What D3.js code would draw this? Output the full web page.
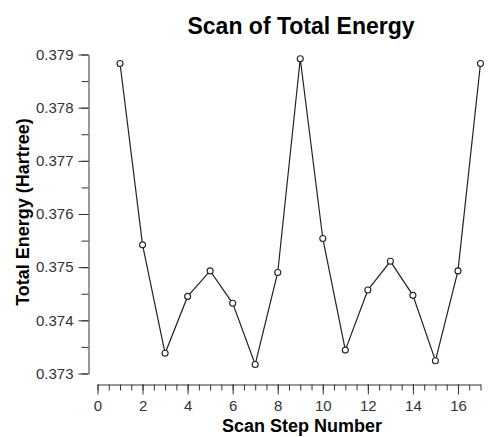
<!DOCTYPE html>
<html>
<head>
<meta charset="utf-8">
<script src="https://cdn.jsdelivr.net/npm/d3@7"></script>
<style>
  body { margin: 0; background: #fff; }
  svg { display: block; font-family: "Liberation Sans", Arial, sans-serif; }
  .tick text { fill: #333; font-size: 15px; }
  .axis path, .axis line { stroke: #333; }
</style>
</head>
<body>
<div id="chart"></div>
<script>
// data
var steps = [1, 2, 3, 4, 5, 6, 7, 8, 9, 10, 11, 12, 13, 14, 15, 16, 17];
var energies = [0.37883, 0.37542, 0.37338, 0.37445, 0.37493, 0.37432, 0.37317,
  0.37490, 0.37892, 0.37554, 0.37344, 0.37457, 0.37511, 0.37447, 0.37324,
  0.37493, 0.37883];
var xTicks = [0, 2, 4, 6, 8, 10, 12, 14, 16];
var yTicks = [0.373, 0.374, 0.375, 0.376, 0.377, 0.378, 0.379];

var svgWidth = 489;
var svgHeight = 437;

var svg = d3.select("#chart")
  .append("svg")
  .attr("width", svgWidth)
  .attr("height", svgHeight);

// scales
var x = d3.scaleLinear().domain([0, 17]).range([97.5, 480.5]);
var y = d3.scaleLinear().domain([0.373, 0.379]).range([373.5, 54.5]);

var xMinor = d3.range(0, 17.01, 0.5);
var yMinor = d3.range(0, 13).map(i => 0.373 + i * 0.0005);

// x axis (minor + major)
var xAxisY = 384.5;
svg.append("g")
  .attr("class", "axis")
  .attr("transform", `translate(0, ${xAxisY})`)
  .call(d3.axisBottom(x).tickValues(xMinor).tickSize(6).tickSizeOuter(0).tickFormat(""));
svg.append("g")
  .attr("class", "axis")
  .attr("transform", `translate(0, ${xAxisY})`)
  .call(d3.axisBottom(x).tickValues(xTicks).tickSize(10).tickSizeOuter(0).tickPadding(6))
  .call(g => g.select(".domain").remove());

// y axis (minor + major)
var yAxisX = 88.5;
svg.append("g")
  .attr("class", "axis")
  .attr("transform", `translate(${yAxisX}, 0)`)
  .call(d3.axisLeft(y).tickValues(yMinor).tickSize(7).tickSizeOuter(0).tickFormat(""));
svg.append("g")
  .attr("class", "axis")
  .attr("transform", `translate(${yAxisX}, 0)`)
  .call(d3.axisLeft(y).tickValues(yTicks).tickSize(10).tickSizeOuter(0).tickPadding(5)
    .tickFormat(d3.format(".3f")))
  .call(g => g.select(".domain").remove());

svg.selectAll(".tick text").attr("font-family", null).attr("font-size", null);

// line
var line = d3.line()
  .x((d, i) => x(steps[i]))
  .y(d => y(d));

svg.append("path")
  .datum(energies)
  .attr("fill", "none")
  .attr("stroke", "#222")
  .attr("stroke-width", 1.2)
  .attr("d", line);

svg.selectAll("circle")
  .data(energies)
  .enter()
  .append("circle")
  .attr("cx", (d, i) => x(steps[i]))
  .attr("cy", d => y(d))
  .attr("r", 3)
  .attr("fill", "#fff")
  .attr("stroke", "#222")
  .attr("stroke-width", 1.1);

// titles
svg.append("text")
  .attr("x", 301)
  .attr("y", 34)
  .attr("text-anchor", "middle")
  .style("font-size", "23px")
  .style("font-weight", "bold")
  .text("Scan of Total Energy");

svg.append("text")
  .attr("transform", "translate(29, 212) rotate(-90)")
  .attr("text-anchor", "middle")
  .style("font-size", "18px")
  .style("font-weight", "bold")
  .text("Total Energy (Hartree)");

svg.append("text")
  .attr("x", 302)
  .attr("y", 432)
  .attr("text-anchor", "middle")
  .style("font-size", "18px")
  .style("font-weight", "bold")
  .text("Scan Step Number");
</script>
</body>
</html>
